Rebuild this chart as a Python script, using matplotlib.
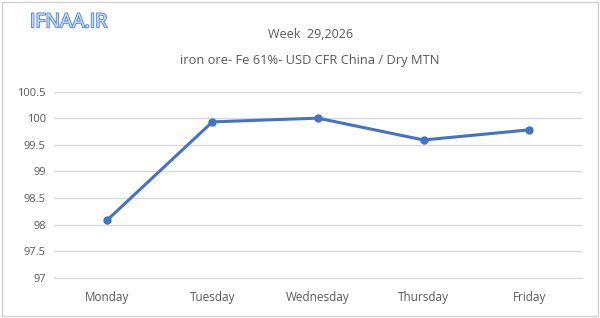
import matplotlib
matplotlib.use("Agg")
import matplotlib.pyplot as plt
import matplotlib.patheffects as pe

days = ["Monday", "Tuesday", "Wednesday", "Thursday", "Friday"]
prices = [98.08, 99.93, 100.0, 99.59, 99.78]
yticks = [97, 97.5, 98, 98.5, 99, 99.5, 100, 100.5]
ytick_labels = ["97", "97.5", "98", "98.5", "99", "99.5", "100", "100.5"]

plt.rcParams["font.family"] = ["Open Sans", "DejaVu Sans"]
text_color = "#595959"

fig = plt.figure(figsize=(6.0, 3.18), dpi=100)
ax = fig.add_axes([54 / 600, 1 - 278 / 318, 528 / 600, (278 - 91.5) / 318])

x = list(range(len(days)))
ax.plot(x, prices, color="#4472C4", linewidth=2.2, marker="o", markersize=5)
ax.set_xlim(-0.5, len(days) - 0.5)
ax.set_ylim(97, 100.5)
ax.set_yticks(yticks)
ax.set_yticklabels(ytick_labels)
ax.set_xticks(x)
ax.set_xticklabels(days)
ax.grid(axis="y", color="#d9d9d9", linewidth=1)
ax.set_axisbelow(True)
for s in ["top", "right", "left"]:
    ax.spines[s].set_visible(False)
ax.spines["bottom"].set_color("#d9d9d9")
ax.tick_params(length=0, labelsize=8, colors=text_color)
ax.tick_params(axis="x", labelsize=8.5, pad=9)
ax.tick_params(axis="y", pad=6)

fig.text(0.517, 0.89, "Week  29,2026", ha="center", va="center", fontsize=9, color=text_color)
fig.text(0.517, 0.81, "iron ore- Fe 61%- USD CFR China / Dry MTN", ha="center", va="center",
         fontsize=9.3, color=text_color)
logo = fig.text(0.05, 0.93, "IFNAA.IR", ha="left", va="center", fontsize=14, color="#c4dbf5")
logo.set_path_effects([pe.withStroke(linewidth=1.3, foreground="#5a86c4")])

fig.patches.append(plt.Rectangle((0.003, 0.005), 0.994, 0.99, transform=fig.transFigure,
                                 fill=False, edgecolor="#d0d0d0", linewidth=1))

fig.savefig("out.png", dpi=100)
